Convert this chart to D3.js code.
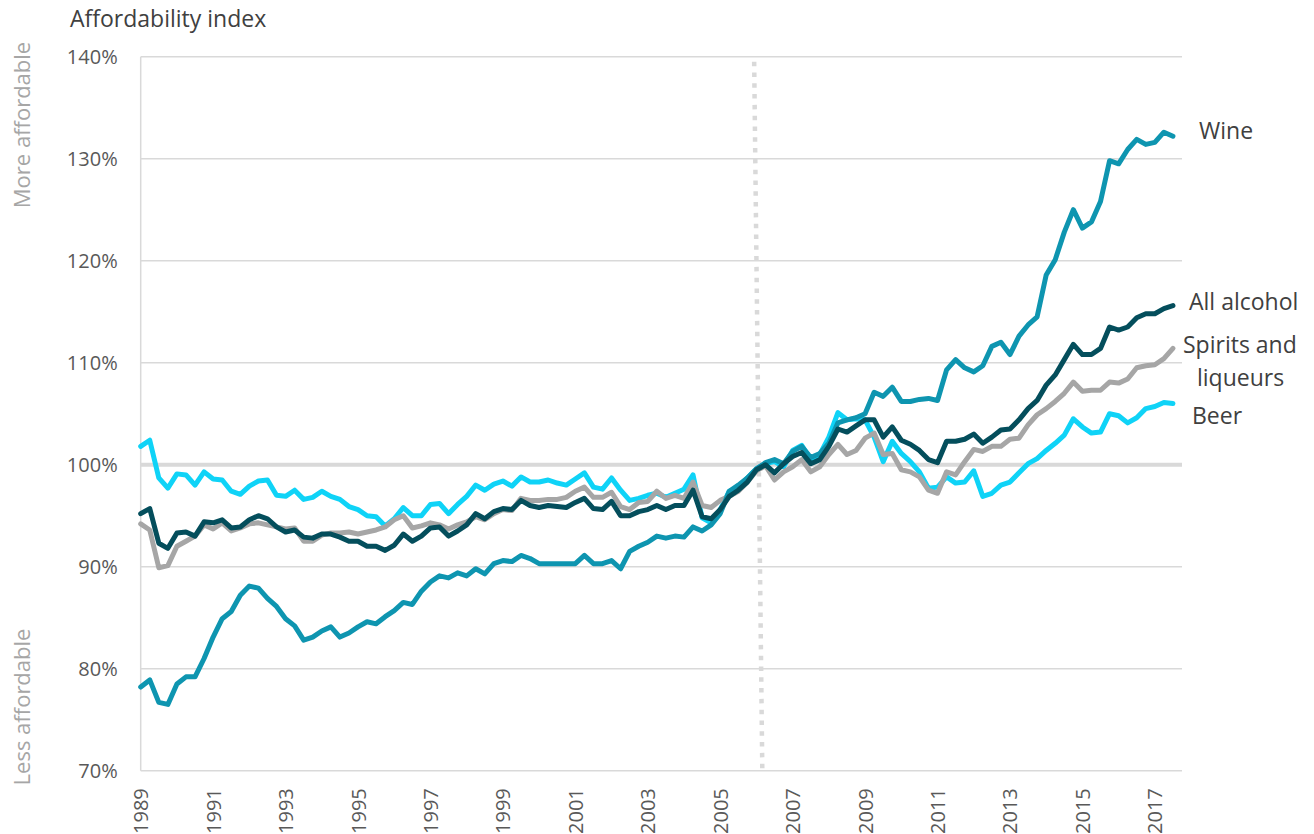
<!DOCTYPE html>
<html lang="en">
<head>
    <meta charset="UTF-8">
    <title>Affordability index</title>
    <script src="https://d3js.org/d3.v7.min.js"></script>
    <style>
        body {
            margin: 0;
            background-color: #ffffff;
            font-family: 'Open Sans', 'Noto Sans', sans-serif;
        }
        svg {
            display: block;
        }
        .grid {
            stroke: #d9d9d9;
            stroke-width: 1.5px;
        }
        .series {
            fill: none;
            stroke-width: 5px;
            stroke-linejoin: round;
            stroke-linecap: round;
        }
        .tick-label {
            fill: #595959;
        }
        .series-label {
            fill: #404040;
            font-size: 23px;
        }
        .side-label {
            fill: #a6a6a6;
            font-size: 22px;
        }
    </style>
</head>
<body>
    <script>
        // quarterly data, 1989 Q1 .. 2017 Q3 (axis runs to 2017 Q4)
        const years = d3.range(1989, 2018);
        const quarters = [];
        years.forEach(yr => [1, 2, 3, 4].forEach(q => quarters.push(yr + " Q" + q)));

        const yearLabels = ["1989", "1991", "1993", "1995", "1997", "1999", "2001", "2003",
                            "2005", "2007", "2009", "2011", "2013", "2015", "2017"];
        const yTicks = [70, 80, 90, 100, 110, 120, 130, 140];

        const wine = [
            78.2, 78.9, 76.7, 76.5, 78.5, 79.2, 79.2, 81.0, 83.1, 84.9, 85.6, 87.2, 88.1, 87.9, 86.9, 86.1,
            84.9, 84.2, 82.8, 83.1, 83.7, 84.1, 83.1, 83.5, 84.1, 84.6, 84.4, 85.1, 85.7, 86.5, 86.3, 87.6,
            88.5, 89.1, 88.9, 89.4, 89.1, 89.8, 89.3, 90.3, 90.6, 90.5, 91.1, 90.8, 90.3, 90.3, 90.3, 90.3,
            90.3, 91.1, 90.3, 90.3, 90.6, 89.8, 91.5, 92.0, 92.4, 93.0, 92.8, 93.0, 92.9, 93.9, 93.5, 94.1,
            95.2, 97.4, 98.0, 98.7, 99.6, 100.2, 100.5, 100.1, 101.3, 101.8, 100.7, 101.1, 102.1, 104.1, 104.4, 104.6,
            105.0, 107.1, 106.7, 107.6, 106.2, 106.2, 106.4, 106.5, 106.3, 109.3, 110.3, 109.5, 109.1, 109.7, 111.6, 112.0,
            110.8, 112.6, 113.7, 114.5, 118.6, 120.1, 122.8, 125.0, 123.2, 123.8, 125.8, 129.8, 129.5, 130.9, 131.9, 131.4,
            131.6, 132.6, 132.2
        ];
        const allAlcohol = [
            95.2, 95.7, 92.3, 91.8, 93.3, 93.4, 93.0, 94.4, 94.3, 94.6, 93.8, 93.9, 94.6, 95.0, 94.7, 93.9,
            93.4, 93.6, 92.9, 92.8, 93.2, 93.2, 92.9, 92.5, 92.5, 92.0, 92.0, 91.6, 92.1, 93.2, 92.5, 93.0,
            93.8, 93.9, 93.0, 93.5, 94.1, 95.2, 94.7, 95.4, 95.7, 95.6, 96.5, 96.0, 95.8, 96.0, 95.9, 95.8,
            96.3, 96.7, 95.7, 95.6, 96.4, 95.0, 95.0, 95.4, 95.6, 96.0, 95.6, 96.0, 96.0, 97.5, 94.9, 94.7,
            95.6, 96.9, 97.5, 98.3, 99.5, 100.0, 99.2, 100.1, 100.8, 101.2, 100.1, 100.5, 101.8, 103.5, 103.2, 103.8,
            104.4, 104.4, 102.7, 103.7, 102.4, 102.0, 101.4, 100.5, 100.2, 102.3, 102.3, 102.5, 103.0, 102.1, 102.7, 103.4,
            103.5, 104.4, 105.5, 106.3, 107.8, 108.8, 110.3, 111.8, 110.8, 110.8, 111.4, 113.5, 113.2, 113.5, 114.4, 114.8,
            114.8, 115.3, 115.6
        ];
        const spirits = [
            94.2, 93.6, 89.9, 90.1, 92.0, 92.5, 93.0, 94.1, 93.7, 94.3, 93.5, 93.8, 94.2, 94.3, 94.1, 93.9,
            93.7, 93.8, 92.5, 92.5, 93.1, 93.3, 93.3, 93.4, 93.2, 93.4, 93.6, 93.9, 94.6, 95.0, 93.8, 94.0,
            94.3, 94.1, 93.7, 94.1, 94.4, 94.9, 94.6, 95.2, 95.6, 95.5, 96.7, 96.5, 96.5, 96.6, 96.6, 96.8,
            97.4, 97.8, 96.8, 96.8, 97.3, 95.9, 95.6, 96.3, 96.4, 97.4, 96.7, 97.0, 96.7, 98.3, 96.0, 95.8,
            96.5, 96.9, 97.4, 98.3, 99.4, 99.9, 98.5, 99.3, 99.8, 100.5, 99.3, 99.8, 101.0, 102.0, 101.0, 101.4,
            102.6, 103.1, 101.0, 101.1, 99.5, 99.3, 98.8, 97.5, 97.2, 99.3, 99.0, 100.3, 101.5, 101.3, 101.8, 101.8,
            102.5, 102.6, 103.9, 104.9, 105.5, 106.2, 107.0, 108.1, 107.2, 107.3, 107.3, 108.1, 108.0, 108.4, 109.5, 109.7,
            109.8, 110.4, 111.4
        ];
        const beer = [
            101.8, 102.4, 98.7, 97.7, 99.1, 99.0, 98.0, 99.3, 98.6, 98.5, 97.4, 97.1, 97.9, 98.4, 98.5, 97.0,
            96.9, 97.5, 96.6, 96.8, 97.4, 96.9, 96.6, 95.9, 95.6, 95.0, 94.9, 94.0, 94.7, 95.8, 95.0, 95.0,
            96.1, 96.2, 95.2, 96.1, 96.9, 98.0, 97.5, 98.1, 98.4, 97.9, 98.8, 98.3, 98.3, 98.5, 98.2, 98.0,
            98.6, 99.2, 97.8, 97.6, 98.7, 97.5, 96.5, 96.7, 97.0, 97.2, 96.8, 97.2, 97.6, 99.0, 94.8, 94.3,
            95.6, 97.4, 97.8, 98.7, 99.6, 100.1, 100.3, 99.8, 101.4, 101.9, 100.5, 101.0, 102.7, 105.1, 104.4, 104.5,
            104.4, 102.7, 100.3, 102.3, 101.1, 100.3, 99.3, 97.7, 97.8, 98.8, 98.2, 98.3, 99.4, 96.9, 97.2, 98.0,
            98.3, 99.2, 100.1, 100.6, 101.4, 102.1, 102.9, 104.5, 103.7, 103.1, 103.2, 105.0, 104.8, 104.1, 104.6, 105.5,
            105.7, 106.1, 106.0
        ];

        // base period marker (quarter index, top and bottom end)
        const baseMarker = [67.75, 68.65];

        const seriesList = [
            { name: "Beer", values: beer, color: "#0fd3f7" },
            { name: "Spirits", values: spirits, color: "#a6a6a6" },
            { name: "Wine", values: wine, color: "#0e95b0" },
            { name: "All alcohol", values: allAlcohol, color: "#044e5c" }
        ];

        const labelLayout = [
            { text: "Wine", x: 1199, y: 139 },
            { text: "All alcohol", x: 1189, y: 310 },
            { text: "Spirits and", x: 1183, y: 353 },
            { text: "liqueurs", x: 1197, y: 386 },
            { text: "Beer", x: 1192, y: 424 }
        ];

        const width = 1314;
        const height = 834;
        const plotLeft = 140.7, plotRight = 1182, plotTop = 56.7, plotBottom = 770.7;

        const svg = d3.select("body").append("svg")
            .attr("width", width)
            .attr("height", height);

        const x = d3.scaleLinear()
            .domain([0, quarters.length - 1])
            .range([plotLeft, plotRight]);

        const y = d3.scaleLinear()
            .domain([70, 140])
            .range([plotBottom, plotTop]);

        // gridlines
        svg.append("g").selectAll("line")
            .data(yTicks.filter(v => v !== 100))
            .enter().append("line")
            .attr("class", "grid")
            .attr("x1", plotLeft)
            .attr("x2", plotRight)
            .attr("y1", d => y(d))
            .attr("y2", d => y(d));

        svg.append("line")
            .attr("class", "grid")
            .attr("x1", plotLeft).attr("x2", plotLeft)
            .attr("y1", plotTop).attr("y2", plotBottom);

        // 100% reference line
        svg.append("line")
            .attr("x1", plotLeft).attr("x2", plotRight)
            .attr("y1", y(100)).attr("y2", y(100))
            .attr("stroke", "#d9d9d9")
            .attr("stroke-width", 4);

        // base period divider
        svg.append("line")
            .attr("x1", x(baseMarker[0])).attr("y1", y(140) + 5)
            .attr("x2", x(baseMarker[1])).attr("y2", y(70))
            .attr("stroke", "#d9d9d9")
            .attr("stroke-width", 4.5)
            .attr("stroke-dasharray", "4.5 6.3");

        // y axis labels
        const yAxis = svg.append("g")
            .attr("transform", `translate(${plotLeft},0)`)
            .call(d3.axisLeft(y).tickValues(yTicks).tickSize(0).tickPadding(23).tickFormat(d => d + "%"));
        yAxis.select(".domain").remove();
        yAxis.selectAll("text")
            .attr("class", "tick-label")
            .attr("font-family", "'Open Sans', sans-serif")
            .attr("font-size", "20px");

        // x axis labels (every second year)
        const labelIdx = yearLabels.map(lbl => quarters.indexOf(lbl + " Q1"));
        const xAxis = svg.append("g")
            .attr("transform", `translate(0,${plotBottom})`)
            .call(d3.axisBottom(x).tickValues(labelIdx).tickSize(0)
                .tickFormat((d, i) => yearLabels[i]));
        xAxis.select(".domain").remove();
        xAxis.selectAll("text")
            .attr("class", "tick-label")
            .attr("font-family", "'Open Sans', sans-serif")
            .attr("font-size", "20px")
            .attr("transform", "rotate(-90)")
            .attr("text-anchor", "end")
            .attr("x", -17.5)
            .attr("y", 0)
            .attr("dy", "0.35em");

        // series lines
        const line = d3.line()
            .x((d, i) => x(i))
            .y(d => y(d));

        svg.append("g").selectAll("path")
            .data(seriesList)
            .enter().append("path")
            .attr("class", "series")
            .attr("stroke", d => d.color)
            .attr("d", d => line(d.values));

        // series labels
        svg.append("g").selectAll("text")
            .data(labelLayout)
            .enter().append("text")
            .attr("class", "series-label")
            .attr("x", d => d.x)
            .attr("y", d => d.y)
            .text(d => d.text);

        // titles
        svg.append("text")
            .attr("x", 70)
            .attr("y", 27)
            .attr("fill", "#404040")
            .attr("font-size", "23px")
            .text("Affordability index");

        svg.append("text")
            .attr("class", "side-label")
            .attr("transform", "translate(30,125) rotate(-90)")
            .attr("text-anchor", "middle")
            .text("More affordable");

        svg.append("text")
            .attr("class", "side-label")
            .attr("transform", "translate(30,707) rotate(-90)")
            .attr("text-anchor", "middle")
            .text("Less affordable");
    </script>
</body>
</html>
